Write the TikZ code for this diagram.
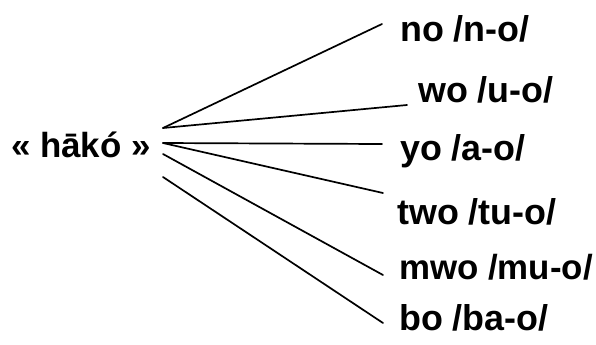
\documentclass[tikz,border=0pt]{standalone}
\usepackage{fontspec}
\setmainfont{Liberation Sans}
\begin{document}
\begin{tikzpicture}[x=1bp,y=-1bp,
  lbl/.style={inner sep=0pt,anchor=base west,font=\fontsize{36}{42}\selectfont\bfseries},
  src/.style={inner sep=0pt,anchor=base west,font=\fontsize{35}{42}\selectfont\bfseries},
  conn/.style={line width=1.7bp,line cap=round}]
\useasboundingbox (0,0) rectangle (596,344);
\node[src] (src) at (11,157) {« hākó »};
\node[lbl] (no) at (400,41) {no /n-o/};
\node[lbl] (wo) at (418,102) {wo /u-o/};
\node[lbl] (yo) at (400,160) {yo /a-o/};
\node[lbl] (two) at (397,224) {two /tu-o/};
\node[src] (mwo) at (399,279) {mwo /mu-o/};
\node[lbl] (bo) at (399,330) {bo /ba-o/};
\coordinate (s1) at (163,128);
\coordinate (s2) at (163,143);
\coordinate (s3) at (163,154);
\coordinate (s4) at (163,177);
\coordinate (e1) at (382,24);
\coordinate (e2) at (407,105);
\coordinate (e3) at (382,144);
\coordinate (e4) at (383,193);
\coordinate (e5) at (383,275);
\coordinate (e6) at (383,323);
\draw[conn] (s1) -- (e1);
\draw[conn] (s1) -- (e2);
\draw[conn] (s2) -- (e3);
\draw[conn] (s2) -- (e4);
\draw[conn] (s3) -- (e5);
\draw[conn] (s4) -- (e6);
\end{tikzpicture}
\end{document}
